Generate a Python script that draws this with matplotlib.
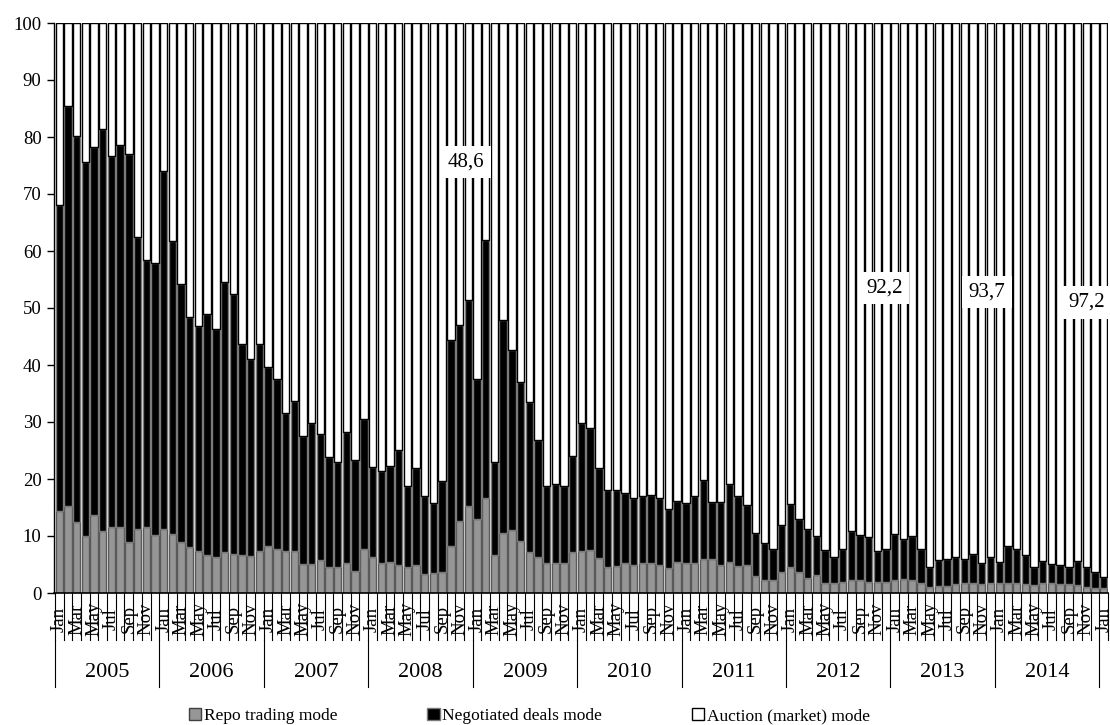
import numpy as np
import matplotlib
matplotlib.use("Agg")
import matplotlib.pyplot as plt
from matplotlib.patches import Patch
from matplotlib.transforms import blended_transform_factory

plt.rcParams['font.family'] = ['Liberation Serif', 'DejaVu Serif']

# monthly shares, %, Jan 2005 .. Jan 2015
years = ['2005', '2006', '2007', '2008', '2009', '2010', '2011', '2012', '2013', '2014']
month_names = ['Jan', 'Feb', 'Mar', 'Apr', 'May', 'Jun', 'Jul', 'Aug', 'Sep', 'Oct', 'Nov', 'Dec']

repo = [14.4, 15.3, 12.5, 10.0, 13.6, 10.9, 11.5, 11.5, 8.9, 11.3, 11.5, 10.2,
        11.3, 10.3, 9.0, 8.0, 7.3, 6.7, 6.3, 7.2, 6.9, 6.6, 6.5, 7.3,
        8.3, 7.8, 7.3, 7.3, 5.1, 5.1, 5.8, 4.6, 4.6, 5.3, 3.9, 7.8,
        6.4, 5.3, 5.5, 5.0, 4.5, 5.0, 3.3, 3.5, 3.6, 8.2, 12.7, 15.2,
        13.0, 16.6, 6.7, 10.5, 11.1, 9.2, 7.2, 6.4, 5.2, 5.2, 5.3, 7.2,
        7.3, 7.5, 6.1, 4.6, 4.7, 5.2, 4.9, 5.2, 5.3, 4.9, 4.3, 5.5,
        5.2, 5.3, 5.9, 5.9, 4.9, 5.5, 4.7, 4.9, 3.0, 2.2, 2.2, 3.6,
        4.6, 3.6, 2.7, 3.2, 1.8, 1.8, 2.0, 2.3, 2.2, 2.0, 2.0, 2.0,
        2.3, 2.4, 2.3, 1.8, 1.1, 1.2, 1.2, 1.6, 1.7, 1.8, 1.6, 1.8,
        1.7, 1.8, 1.8, 1.6, 1.4, 1.8, 1.7, 1.6, 1.6, 1.4, 1.1, 0.8,
        0.8]

negotiated = [53.7, 70.2, 67.7, 65.6, 64.7, 70.5, 65.1, 67.1, 68.1, 51.2, 47.0, 47.7,
              62.8, 51.4, 45.2, 40.4, 39.5, 42.3, 40.1, 47.3, 45.6, 37.0, 34.5, 36.3,
              31.4, 29.7, 24.2, 26.3, 22.4, 24.7, 22.1, 19.2, 18.4, 22.9, 19.5, 22.7,
              15.7, 16.1, 16.7, 20.1, 14.3, 17.0, 13.8, 12.3, 16.1, 36.1, 34.4, 36.2,
              24.5, 45.4, 16.3, 37.4, 31.5, 27.8, 26.3, 20.4, 13.6, 14.0, 13.5, 16.9,
              22.6, 21.5, 15.9, 13.4, 13.3, 12.3, 11.7, 11.8, 11.9, 11.7, 10.4, 10.7,
              10.6, 11.7, 13.9, 10.1, 11.1, 13.6, 12.3, 10.5, 7.5, 6.6, 5.6, 8.3,
              11.0, 9.3, 8.5, 6.8, 5.7, 4.6, 5.8, 8.6, 8.0, 7.8, 5.4, 5.8,
              8.1, 7.0, 7.7, 5.9, 3.5, 4.6, 4.7, 4.8, 4.2, 5.0, 3.7, 4.5,
              3.8, 6.4, 6.0, 5.1, 3.1, 3.9, 3.4, 3.3, 3.0, 4.3, 3.5, 2.9,
              2.0]

# auction share is what is left to 100 %
auction = [round(100 - r - n, 1) for r, n in zip(repo, negotiated)]

# December values written on the chart: (label, x position, y position)
notes = [('48,6', 46.7, 75.6), ('92,2', 94.8, 53.5), ('93,7', 106.6, 52.8), ('97,2', 118.0, 51.0)]

n = len(repo)
x = np.arange(n)
repo = np.array(repo)
negotiated = np.array(negotiated)
auction = np.array(auction)

fig = plt.figure(figsize=(11.1, 7.25), dpi=100)
ax = fig.add_axes([54 / 1110, 1 - 593 / 725, (1108 - 54) / 1110, 570 / 725])

w = 0.85
ax.bar(x, repo, width=w, color='#969696', edgecolor='#5a5a5a', linewidth=1.0)
ax.bar(x, negotiated, bottom=repo, width=w, color='black', edgecolor='#7a7a7a', linewidth=1.0)
ax.bar(x, auction, bottom=repo + negotiated, width=w, color='white', edgecolor='black', linewidth=1.0)

ax.set_xlim(-0.6, n - 0.5)
ax.set_ylim(0, 100)
ax.set_yticks(range(0, 101, 10))
ax.tick_params(axis='y', direction='out', length=5, width=1, labelsize=13.5, pad=4)
ax.set_xticks([])
for s in ['top', 'right']:
    ax.spines[s].set_visible(False)
ax.spines['left'].set_linewidth(1)
ax.spines['bottom'].set_linewidth(1.2)

# category axis: month ticks, labels and year groups
trans = blended_transform_factory(ax.transData, ax.transAxes)
for i in range(n + 1):
    ax.plot([i - 0.5, i - 0.5], [0, -0.0825], color='black', lw=0.8,
            transform=trans, clip_on=False)
for i in range(0, n, 2):
    ax.text(i, -0.046, month_names[i % 12], rotation=90, ha='center', va='center',
            fontsize=13.5, transform=trans)
for k, yr in enumerate(years):
    ax.plot([12 * k - 0.5, 12 * k - 0.5], [-0.0825, -0.165], color='black', lw=0.8,
            transform=trans, clip_on=False)
    ax.text(12 * k + 5.5, -0.140, yr, ha='center', va='center', fontsize=16,
            transform=trans)
ax.plot([12 * len(years) - 0.5] * 2, [-0.0825, -0.165], color='black', lw=0.8,
        transform=trans, clip_on=False)

for label, px, py in notes:
    ax.text(px, py, label, ha='center', va='center', fontsize=15, clip_on=False,
            bbox=dict(facecolor='white', edgecolor='none', pad=5))

handles = [Patch(facecolor='#969696', edgecolor='#404040', label='Repo trading mode'),
           Patch(facecolor='black', edgecolor='#7a7a7a', label='Negotiated deals mode'),
           Patch(facecolor='white', edgecolor='black', label='Auction (market) mode')]
fig.legend(handles=handles, loc='center', bbox_to_anchor=(0.477, 1 - 716 / 725), ncol=3,
           frameon=False, fontsize=12.5, handlelength=0.7, handleheight=0.7,
           handletextpad=0.15, columnspacing=5.2)

fig.savefig('out.png', dpi=100)
